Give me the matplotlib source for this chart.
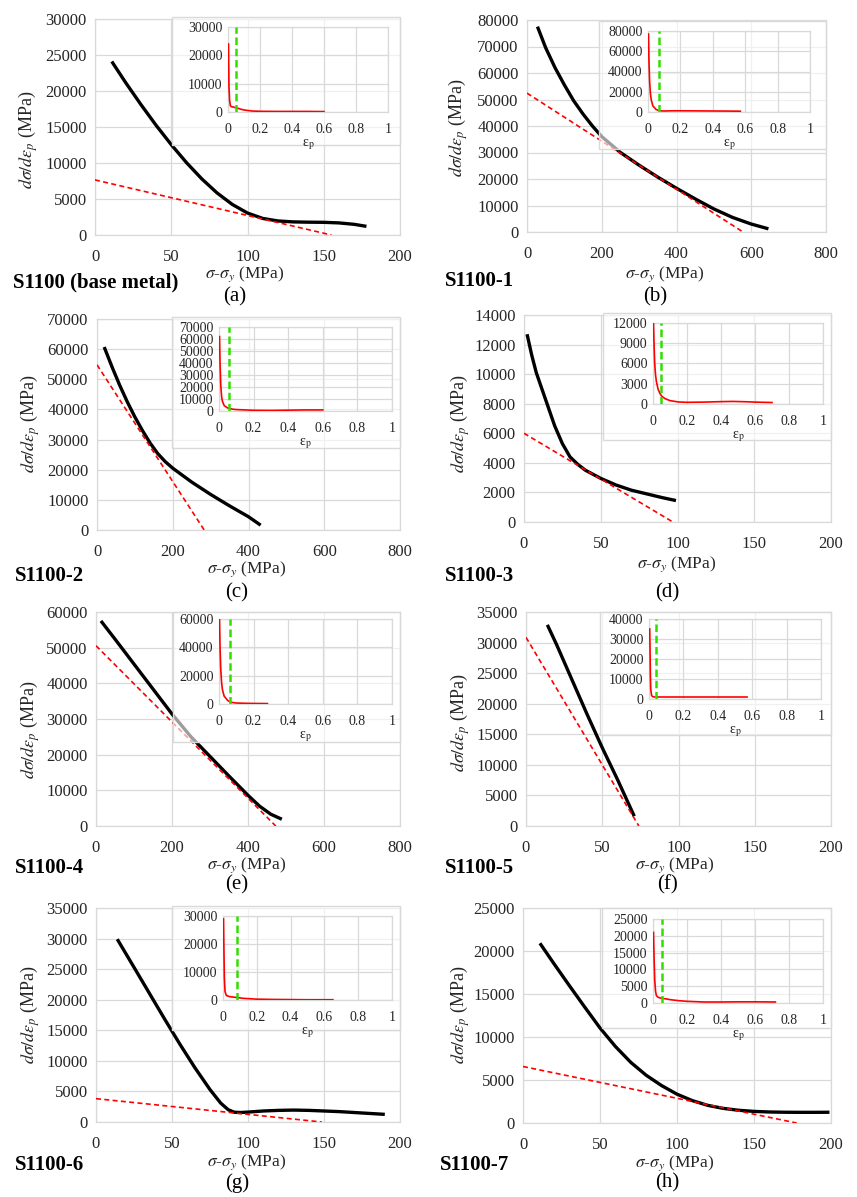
import matplotlib
matplotlib.use("Agg")
import matplotlib.pyplot as plt
from matplotlib.patches import Rectangle
import numpy as np

plt.rcParams["font.family"] = ["Liberation Serif", "DejaVu Serif"]
plt.rcParams["mathtext.fontset"] = "stix"

W, H = 857, 1197

# ---- data ----
names = ["S1100 (base metal)", "S1100-1", "S1100-2", "S1100-3",
         "S1100-4", "S1100-5", "S1100-6", "S1100-7"]
letters = ["(a)", "(b)", "(c)", "(d)", "(e)", "(f)", "(g)", "(h)"]

# main curves: sigma - sigma_y (MPa) vs d sigma / d eps_p (MPa)
a_x = [11, 20, 30, 40, 50, 60, 70, 80, 90, 100, 110, 120, 130, 140, 150, 160, 170, 178]
a_y = [24100, 21200, 18150, 15250, 12550, 10050, 7800, 5850, 4250, 3050, 2300, 1950,
       1820, 1780, 1760, 1680, 1480, 1200]
b_x = [28, 50, 75, 100, 125, 150, 175, 200, 250, 300, 350, 400, 450, 500, 550, 600, 646]
b_y = [77500, 69500, 62000, 55500, 49500, 44500, 40000, 36000, 30000, 25200, 20700,
       16500, 12500, 8700, 5500, 3000, 1200]
c_x = [19, 40, 60, 80, 100, 120, 140, 160, 180, 200, 250, 300, 350, 400, 432]
c_y = [60700, 54000, 48000, 42500, 37500, 33000, 28900, 25400, 22700, 20500, 15900,
       11800, 8000, 4400, 1600]
d_x = [2, 5, 8, 12, 16, 20, 25, 30, 35, 40, 50, 60, 70, 80, 90, 99]
d_y = [12700, 11300, 10100, 8900, 7700, 6500, 5300, 4400, 3900, 3500, 2950, 2500,
       2150, 1900, 1650, 1450]
e_x = [13, 50, 100, 150, 200, 250, 300, 350, 400, 430, 460, 489]
e_y = [57500, 52400, 45400, 38400, 31400, 25000, 19500, 14000, 8600, 5600, 3300, 1900]
f_x = [14, 20, 30, 40, 50, 60, 71]
f_y = [32900, 29700, 24000, 18300, 12800, 7600, 1600]
g_x = [14, 25, 35, 45, 55, 65, 75, 82, 87, 91, 95, 100, 110, 120, 130, 140, 150,
       160, 170, 180, 190]
g_y = [29900, 25300, 21100, 16900, 12800, 8900, 5300, 3100, 2000, 1600, 1550, 1620,
       1800, 1900, 1950, 1900, 1800, 1700, 1550, 1400, 1250]
h_x = [11, 20, 30, 40, 50, 60, 70, 80, 90, 100, 110, 120, 130, 140, 150, 160, 170,
       180, 190, 199]
h_y = [20900, 18550, 16000, 13500, 11050, 8900, 7050, 5550, 4350, 3350, 2600, 2050,
       1700, 1480, 1350, 1280, 1250, 1240, 1240, 1250]

# linear fit (red dashed): intercept at x=0 and zero crossing
fit_y0 = [7650, 52400, 54800, 6000, 50550, 30850, 3820, 6570]
fit_x1 = [155, 578, 283, 97, 473, 74, 148.5, 177.7]

# insets: eps_p vs d sigma / d eps_p
a_eps = [0.003, 0.006, 0.01, 0.015, 0.02, 0.03, 0.05, 0.08, 0.1, 0.15, 0.2, 0.3, 0.4, 0.5, 0.6]
a_rate = [24000, 9000, 4000, 2200, 1900, 1800, 1500, 1000, 700, 350, 250, 200, 200, 200, 150]
b_eps = [0.003, 0.006, 0.01, 0.015, 0.02, 0.03, 0.05, 0.07, 0.1, 0.15, 0.2, 0.3, 0.4, 0.5, 0.57]
b_rate = [77000, 50000, 30000, 18000, 12000, 6000, 2500, 1200, 1000, 1200, 1200, 1100,
          1000, 900, 800]
c_eps = [0.003, 0.006, 0.01, 0.015, 0.02, 0.03, 0.05, 0.08, 0.1, 0.2, 0.3, 0.4, 0.5, 0.6]
c_rate = [62000, 40000, 22000, 12000, 8000, 4500, 2500, 1500, 1200, 600, 500, 700, 900, 900]
d_eps = [0.003, 0.006, 0.01, 0.015, 0.02, 0.03, 0.04, 0.05, 0.07, 0.1, 0.15, 0.2, 0.3,
         0.4, 0.47, 0.55, 0.6, 0.7]
d_rate = [12000, 9000, 6000, 4300, 3300, 2200, 1600, 1200, 800, 500, 300, 250, 280,
          350, 380, 330, 280, 220]
e_eps = [0.003, 0.006, 0.01, 0.015, 0.02, 0.03, 0.05, 0.07, 0.1, 0.15, 0.2, 0.28]
e_rate = [60000, 40000, 25000, 15000, 10000, 5500, 2500, 1200, 700, 500, 400, 300]
f_eps = [0.004, 0.006, 0.008, 0.01, 0.015, 0.02, 0.03, 0.05, 0.1, 0.2, 0.3, 0.4, 0.5, 0.57]
f_rate = [35000, 25000, 12000, 5000, 1800, 1200, 1000, 1000, 1000, 1000, 1000, 1000,
          1000, 1000]
g_eps = [0.003, 0.005, 0.008, 0.012, 0.02, 0.04, 0.08, 0.12, 0.2, 0.3, 0.4, 0.5, 0.65]
g_rate = [29000, 20000, 8000, 3000, 1600, 1200, 900, 600, 300, 200, 150, 100, 100]
h_eps = [0.003, 0.006, 0.01, 0.015, 0.02, 0.03, 0.05, 0.08, 0.1, 0.15, 0.2, 0.3, 0.4,
         0.5, 0.6, 0.72]
h_rate = [21000, 14000, 7000, 3500, 2200, 1700, 1400, 1200, 1000, 700, 500, 300, 300,
          350, 350, 300]

# green dashed marker in insets
eps_mark = [0.05, 0.07, 0.055, 0.047, 0.065, 0.039, 0.08, 0.053]

# axis ticks
main_xmax = [200, 800, 800, 200, 800, 200, 200, 200]
main_xstep = [50, 200, 200, 50, 200, 50, 50, 50]
main_ymax = [30000, 80000, 70000, 14000, 60000, 35000, 35000, 25000]
main_ystep = [5000, 10000, 10000, 2000, 10000, 5000, 5000, 5000]
inset_ymax = [30000, 80000, 70000, 12000, 60000, 40000, 30000, 25000]
inset_ystep = [10000, 20000, 10000, 3000, 20000, 10000, 10000, 5000]
inset_xticks = [0, 0.2, 0.4, 0.6, 0.8, 1.0]
inset_xlabels = ["0", "0.2", "0.4", "0.6", "0.8", "1"]

curves = [(a_x, a_y), (b_x, b_y), (c_x, c_y), (d_x, d_y),
          (e_x, e_y), (f_x, f_y), (g_x, g_y), (h_x, h_y)]
insets = [(a_eps, a_rate), (b_eps, b_rate), (c_eps, c_rate), (d_eps, d_rate),
          (e_eps, e_rate), (f_eps, f_rate), (g_eps, g_rate), (h_eps, h_rate)]

# ---- layout in pixels (left, top, right, bottom) ----
main_px = [(95, 19, 400, 235), (527, 20, 826, 232), (97, 319, 400, 530), (524, 315, 831, 522),
           (96, 612, 400, 826), (526, 612, 831, 826), (96, 908, 400, 1122), (523, 908, 831, 1123)]
inset_px = [(228, 27, 388, 112), (648, 31, 810, 112), (219, 327, 392, 411), (653, 323, 823, 404),
            (219, 619, 392, 704), (649, 619, 821, 699), (223, 916, 392, 1000), (653, 919, 823, 1003)]
box_px = [(172, 17, 400, 145), (599, 21, 826, 149), (172, 317, 400, 448), (603, 313, 831, 440),
          (173, 612, 400, 742), (600, 612, 831, 735), (172, 906, 400, 1030), (602, 908, 831, 1028)]
name_px = [(13, 282), (445, 281), (15, 576), (445, 576), (15, 868), (445, 868), (15, 1165), (440, 1165)]
letter_px = [(235, 297), (655, 297), (237, 593), (667, 593), (237, 885), (667, 885), (237, 1183), (667, 1183)]
xlab_px = [(245, 274), (665, 274), (247, 569), (677, 564), (247, 865), (675, 865), (247, 1162), (675, 1163)]
ylab_px = [(28, 140), (458, 128), (30, 424), (460, 424), (30, 730), (460, 723), (30, 1015), (460, 1015)]

GRID = "#d9d9d9"
TXT = "#262626"


def rect(p):
    l, t, r, b = p
    return [l / W, 1 - b / H, (r - l) / W, (b - t) / H]


def fxy(p):
    return p[0] / W, 1 - p[1] / H


def style(ax, fs):
    ax.grid(True, color=GRID, lw=0.9)
    ax.set_axisbelow(True)
    for s in ax.spines.values():
        s.set_color(GRID)
        s.set_linewidth(0.9)
    ax.tick_params(length=0, labelsize=fs, colors=TXT)


fig = plt.figure(figsize=(W / 100, H / 100), dpi=100)

for i in range(8):
    ax = fig.add_axes(rect(main_px[i]))
    x, y = curves[i]
    ax.plot(x, y, color="black", lw=2.4, solid_capstyle="butt", zorder=3)
    ax.plot([0, fit_x1[i]], [fit_y0[i], 0], color="red", lw=1.2,
            dashes=(3, 2), zorder=4)
    ax.set_xlim(0, main_xmax[i])
    ax.set_ylim(0, main_ymax[i])
    ax.set_xticks(np.arange(0, main_xmax[i] + 1, main_xstep[i]))
    ax.set_yticks(np.arange(0, main_ymax[i] + 1, main_ystep[i]))
    style(ax, 12)
    ax.tick_params(axis="x", pad=10)
    ax.tick_params(axis="y", pad=6)

    # semi-transparent chart area behind the inset
    bl, bt, br, bb = box_px[i]
    fig.patches.append(Rectangle(fxy((bl, bb)), (br - bl) / W, (bb - bt) / H,
                                 transform=fig.transFigure,
                                 facecolor=(1, 1, 1, 0.62),
                                 edgecolor=GRID, lw=1.0, zorder=5))

    ins = fig.add_axes(rect(inset_px[i]), zorder=6)
    ins.patch.set_alpha(0)
    ex, er = insets[i]
    ins.plot(ex, er, color="red", lw=1.2, zorder=3)
    ins.plot([eps_mark[i], eps_mark[i]], [0, inset_ymax[i]], color="#33dd00",
             lw=1.8, dashes=(3, 1.5), zorder=4)
    ins.set_xlim(0, 1)
    ins.set_ylim(0, inset_ymax[i])
    ins.set_xticks(inset_xticks)
    ins.set_xticklabels(inset_xlabels)
    ins.set_yticks(np.arange(0, inset_ymax[i] + 1, inset_ystep[i]))
    style(ins, 10)
    ins.tick_params(axis="x", pad=8)
    ins.tick_params(axis="y", pad=4)
    ins.set_xlabel(r"ε$_\mathrm{p}$", fontsize=10, color=TXT, labelpad=1)

    tx, ty = fxy(name_px[i])
    fig.text(tx, ty, names[i], fontsize=15, fontweight="bold", ha="left", va="center")
    lx, ly = fxy(letter_px[i])
    fig.text(lx, ly, letters[i], fontsize=15, ha="center", va="center")
    xx, xy = fxy(xlab_px[i])
    fig.text(xx, xy, r"$\sigma$-$\sigma_y$ (MPa)", fontsize=12.5, ha="center",
             va="center", color=TXT)
    yx, yy = fxy(ylab_px[i])
    fig.text(yx, yy, r"$d\sigma/d\varepsilon_p$ (MPa)", fontsize=13, ha="center",
             va="center", rotation=90, color=TXT)

fig.savefig("out.png", dpi=100, facecolor="white")
